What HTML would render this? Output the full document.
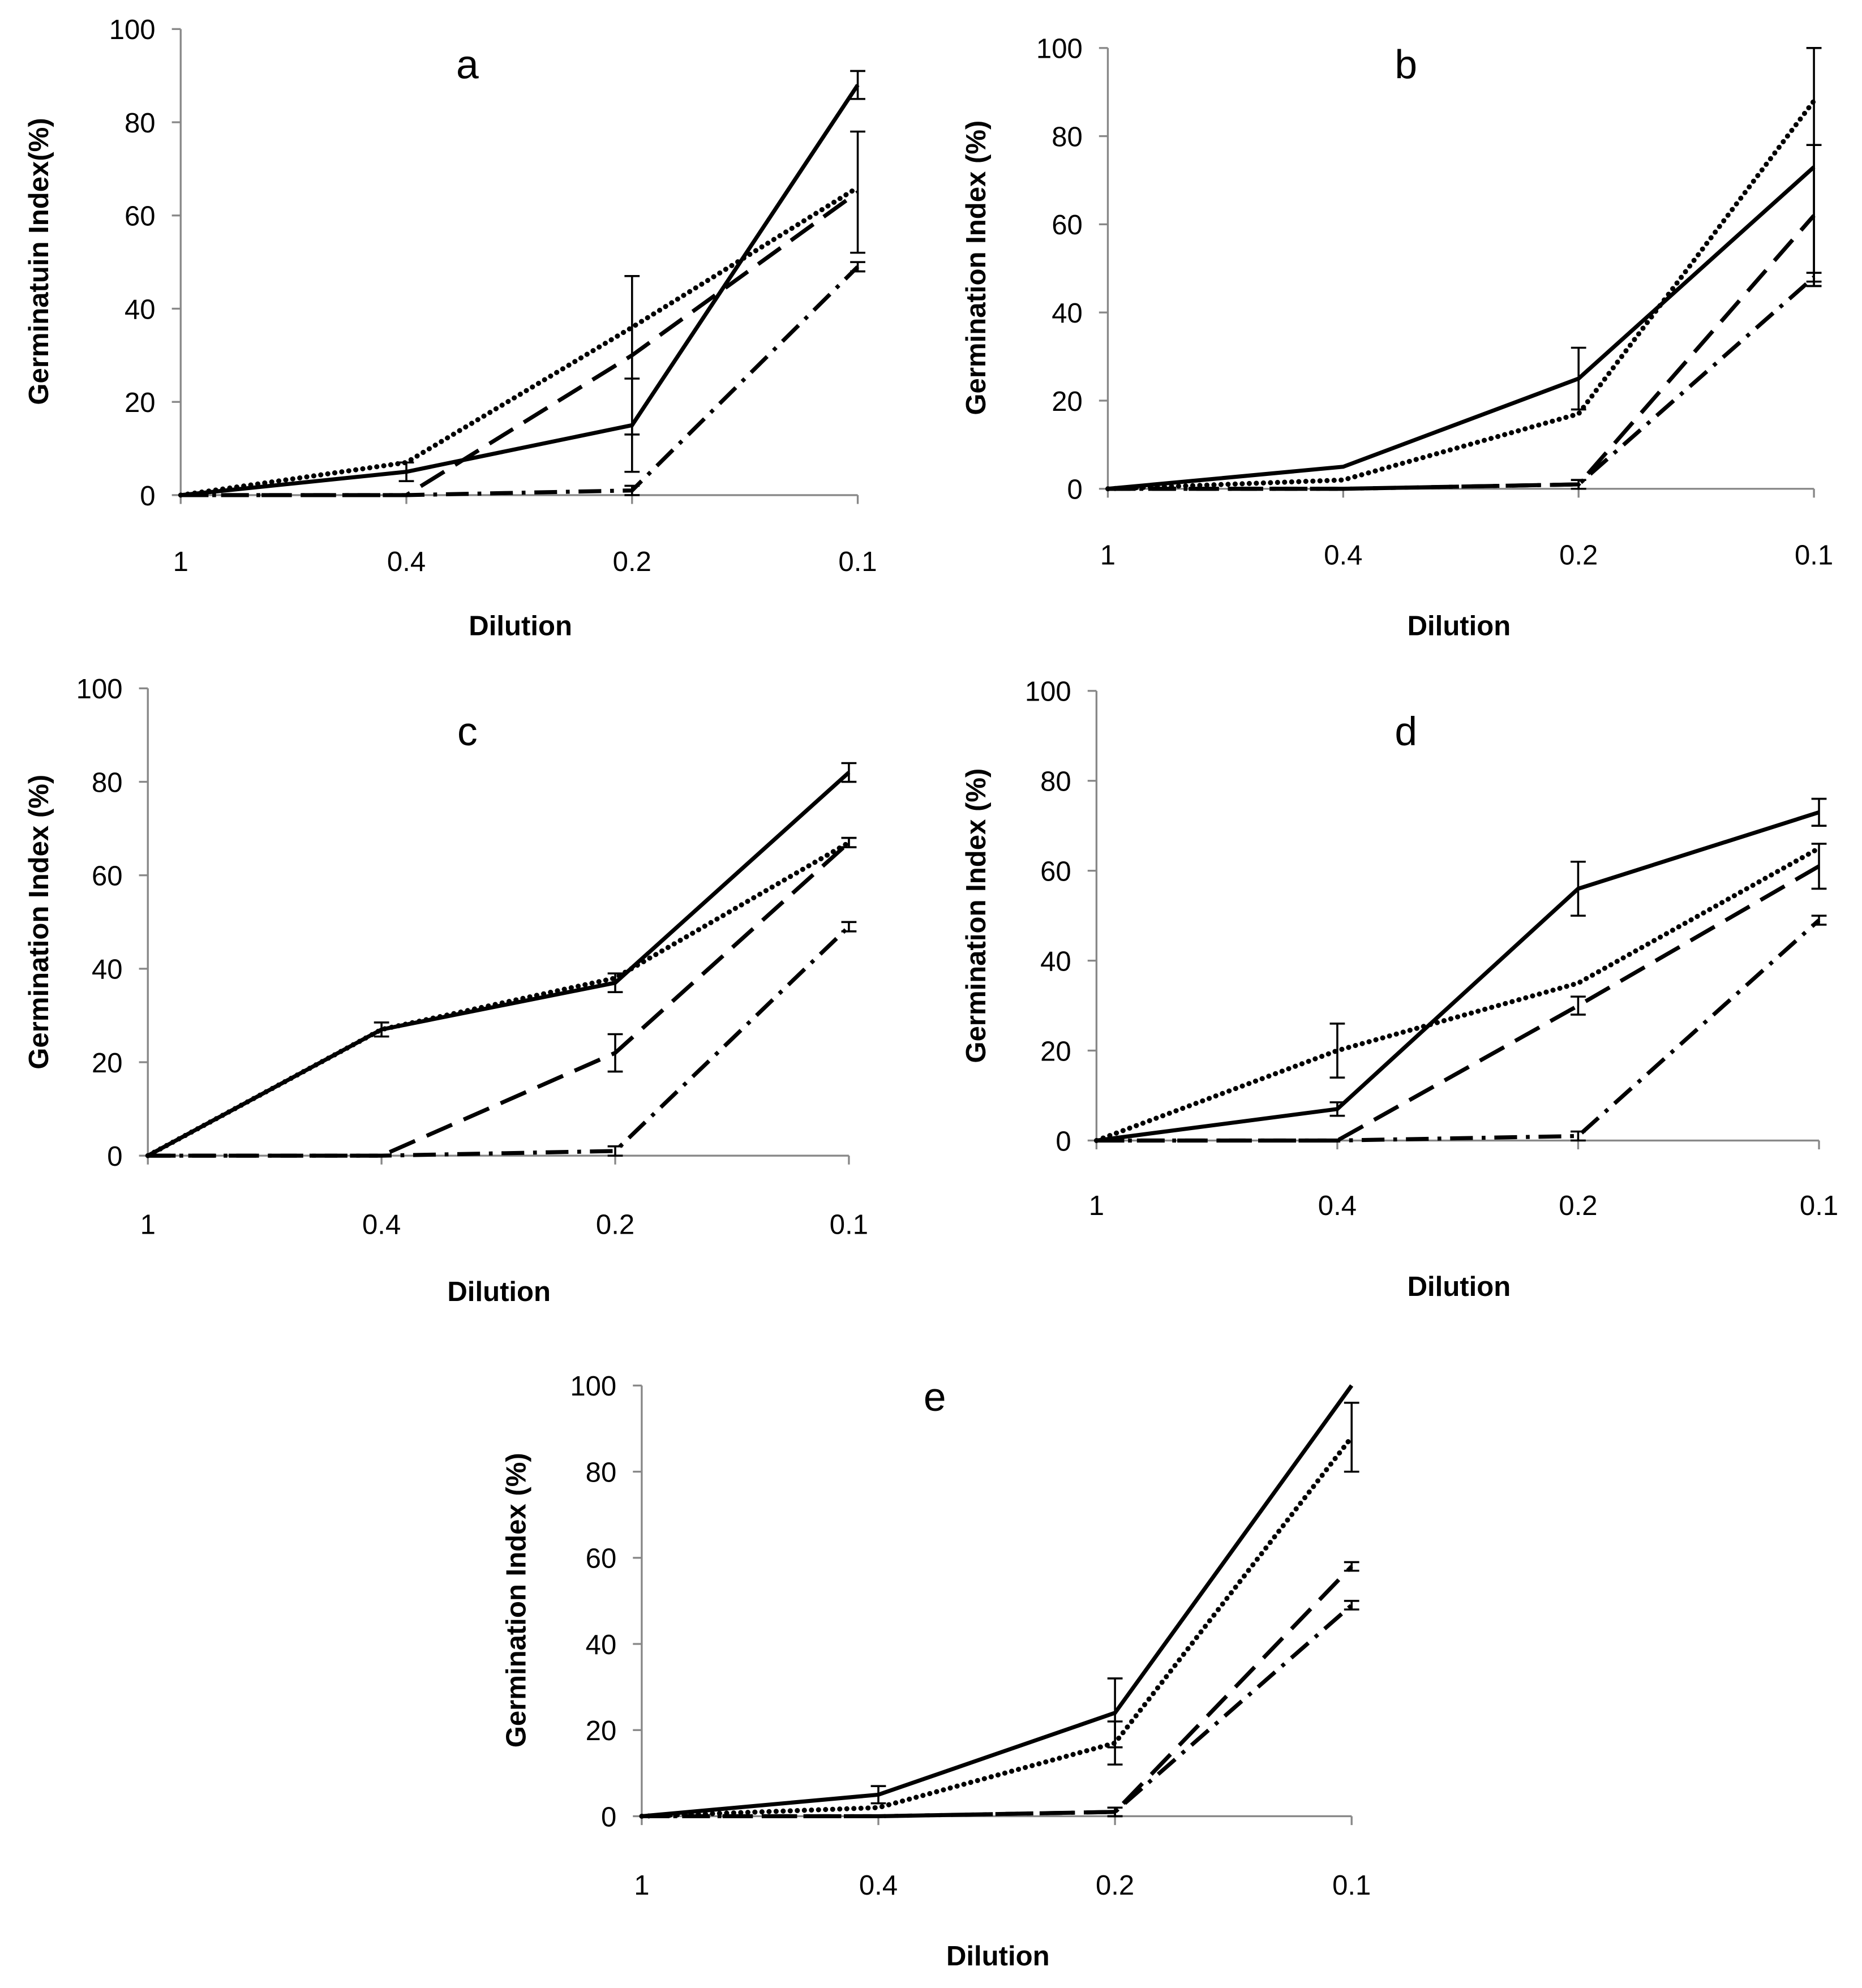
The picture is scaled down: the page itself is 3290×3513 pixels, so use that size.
<!DOCTYPE html>
<html><head><meta charset="utf-8">
<style>
html,body{margin:0;padding:0;background:#fff;}
svg{display:block;}
text{font-family:"Liberation Sans",Arial,sans-serif;fill:#000;}
</style></head>
<body>
<svg id="fig" width="3290" height="3513" viewBox="0 0 1474 1574" xmlns="http://www.w3.org/2000/svg"></svg>
<script>
const categories = ["1","0.4","0.2","0.1"];
const yTicks = [0,20,40,60,80,100];
// panel a
const aSolid=[0,5,15,88], aSolidErr=[0,2,10,3];
const aDotted=[0,7,36,66], aDottedErr=[0,0,0,0];
const aDashed=[0,0,30,65], aDashedErr=[0,0,17,13];
const aDashDot=[0,0,1,49], aDashDotErr=[0,0,1,1];
// panel b
const bSolid=[0,5,25,73], bSolidErr=[0,0,7,27];
const bDotted=[0,2,17,88], bDottedErr=[0,0,0,0];
const bDashed=[0,0,1,62], bDashedErr=[0,0,1,16];
const bDashDot=[0,0,1,48], bDashDotErr=[0,0,1,1];
// panel c
const cSolid=[0,27,37,82], cSolidErr=[0,1.5,2,2];
const cDotted=[0,27,38,67], cDottedErr=[0,0,0,1];
const cDashed=[0,0,22,67], cDashedErr=[0,0,4,1];
const cDashDot=[0,0,1,49], cDashDotErr=[0,0,1,1];
// panel d
const dSolid=[0,7,56,73], dSolidErr=[0,1.5,6,3];
const dDotted=[0,20,35,65], dDottedErr=[0,6,0,0];
const dDashed=[0,0,30,61], dDashedErr=[0,0,2,5];
const dDashDot=[0,0,1,49], dDashDotErr=[0,0,1,1];
// panel e
const eSolid=[0,5,24,100], eSolidErr=[0,2,8,0];
const eDotted=[0,2,17,88], eDottedErr=[0,0,5,8];
const eDashed=[0,0,1,58], eDashedErr=[0,0,1,1];
const eDashDot=[0,0,1,49], eDashDotErr=[0,0,1,1];

const NS="http://www.w3.org/2000/svg";
const svg=document.getElementById('fig');
function mk(tag,attrs,parent){const e=document.createElementNS(NS,tag);for(const k in attrs)e.setAttribute(k,attrs[k]);(parent||svg).appendChild(e);return e;}

const panels=[
 {id:'a',x0:143,x1:679,y0:392,y100:23,tx:370,ty:62,xl:[412,503],tickY:452,yl:[30,207],ylab:"Germinatuin Index(%)",series:[[aSolid,aSolidErr],[aDotted,aDottedErr],[aDashed,aDashedErr],[aDashDot,aDashDotErr]]},
 {id:'b',x0:877,x1:1436,y0:387,y100:38,tx:1113,ty:62,xl:[1155,503],tickY:447,yl:[772,212],ylab:"Germination Index (%)",series:[[bSolid,bSolidErr],[bDotted,bDottedErr],[bDashed,bDashedErr],[bDashDot,bDashDotErr]]},
 {id:'c',x0:117,x1:672,y0:915,y100:545,tx:370,ty:590,xl:[395,1030],tickY:977,yl:[30,730],ylab:"Germination Index (%)",series:[[cSolid,cSolidErr],[cDotted,cDottedErr],[cDashed,cDashedErr],[cDashDot,cDashDotErr]]},
 {id:'d',x0:868,x1:1440,y0:903,y100:547,tx:1113,ty:590,xl:[1155,1026],tickY:962,yl:[772,725],ylab:"Germination Index (%)",series:[[dSolid,dSolidErr],[dDotted,dDottedErr],[dDashed,dDashedErr],[dDashDot,dDashDotErr]]},
 {id:'e',x0:508,x1:1070,y0:1438,y100:1097,tx:740,ty:1117,xl:[790,1556],tickY:1500,yl:[408,1267],ylab:"Germination Index (%)",series:[[eSolid,eSolidErr],[eDotted,eDottedErr],[eDashed,eDashedErr],[eDashDot,eDashDotErr]]}
];
const styles=[
 {dash:'none',w:3.2,name:'solid',cap:'butt'},
 {dash:'0.1,5.5',w:4,name:'dotted',cap:'round'},
 {dash:'22,10',w:3.2,name:'dashed',cap:'butt'},
 {dash:'18,7,3,7',w:3.2,name:'dash-dot',cap:'butt'}
];

panels.forEach(p=>{
 const g=mk('g',{});
 
 
 const xs=i=>p.x0+(p.x1-p.x0)*i/(categories.length-1);
 const ys=v=>p.y0+(p.y100-p.y0)*v/100;
 const ya=mk('line',{x1:p.x0,y1:p.y0,x2:p.x0,y2:p.y100,stroke:'#888','stroke-width':1.5},g);
 
 
 const xa=mk('line',{x1:p.x0,y1:p.y0,x2:p.x1,y2:p.y0,stroke:'#888','stroke-width':1.5},g);
 
 
 yTicks.forEach(t=>{
  mk('line',{x1:p.x0-7,y1:ys(t),x2:p.x0,y2:ys(t),stroke:'#888','stroke-width':1.5},g);
  const tl=mk('text',{x:p.x0-20,y:ys(t)+8,'text-anchor':'end','font-size':22},g);
  tl.textContent=t;
  
  
 });
 categories.forEach((c,i)=>{
  mk('line',{x1:xs(i),y1:p.y0,x2:xs(i),y2:p.y0+7,stroke:'#888','stroke-width':1.5},g);
  const tl=mk('text',{x:xs(i),y:p.tickY,'text-anchor':'middle','font-size':22},g);
  tl.textContent=c;
  
  
 });
 const tt=mk('text',{x:p.tx,y:p.ty,'text-anchor':'middle','font-size':32},g);
 tt.textContent=p.id;
 
 
 const xl=mk('text',{x:p.xl[0],y:p.xl[1],'text-anchor':'middle','font-size':22,'font-weight':'bold'},g);
 xl.textContent='Dilution';
 
 
 const yl=mk('text',{x:0,y:0,'text-anchor':'middle','font-size':22,'font-weight':'bold',transform:`translate(${p.yl[0]+8},${p.yl[1]}) rotate(-90)`},g);
 yl.textContent=p.ylab;
 
 
 p.series.forEach((s,si)=>{
  const st=styles[si];
  const pts=s[0].map((v,i)=>xs(i)+','+ys(v)).join(' ');
  const pl=mk('polyline',{points:pts,fill:'none',stroke:'#000','stroke-width':st.w,'stroke-dasharray':st.dash,'stroke-linecap':st.cap},g);
  
  
  s[1].forEach((e,i)=>{
   if(!e)return;
   const x=xs(i),v=s[0][i];
   const eb=mk('path',{d:`M${x},${ys(v-e)}V${ys(v+e)}M${x-6},${ys(v-e)}H${x+6}M${x-6},${ys(v+e)}H${x+6}`,stroke:'#000','stroke-width':1.6,fill:'none'},g);
   
   
  });
 });
});
</script>
</body></html>
